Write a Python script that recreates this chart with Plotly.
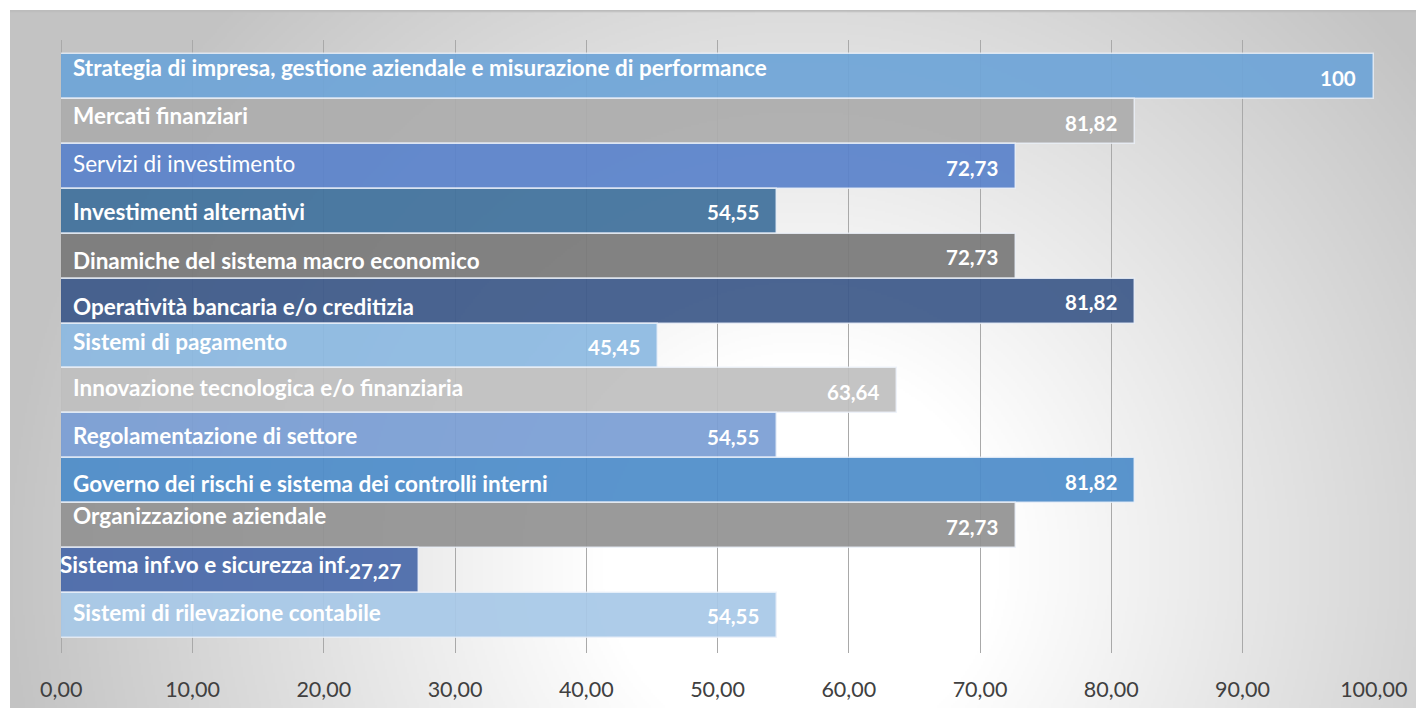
import base64, struct, zlib
import numpy as np
import plotly.graph_objects as go

# ---------------- data ----------------
categories = [
    "Strategia di impresa, gestione aziendale e misurazione di performance",
    "Mercati finanziari",
    "Servizi di investimento",
    "Investimenti alternativi",
    "Dinamiche del sistema macro economico",
    "Operatività bancaria e/o creditizia",
    "Sistemi di pagamento",
    "Innovazione tecnologica e/o finanziaria",
    "Regolamentazione di settore",
    "Governo dei rischi e sistema dei controlli interni",
    "Organizzazione aziendale",
    "Sistema inf.vo e sicurezza inf.",
    "Sistemi di rilevazione contabile",
]
values = [100, 81.82, 72.73, 54.55, 72.73, 81.82, 45.45, 63.64, 54.55, 81.82, 72.73, 27.27, 54.55]
tick_values = [0, 10, 20, 30, 40, 50, 60, 70, 80, 90, 100]

# ---------------- styles ----------------
bar_colors = ["#6fa5d8", "#adadad", "#5b83cb", "#41729d", "#7a7a7a", "#3e5a8a",
              "#8dbae2", "#c0c0c0", "#7b9fd5", "#4e8dca", "#939393", "#4a6aaa", "#a8c9e8"]
label_bold = [True, True, False, True, True, True, True, True, True, True, True, True, True]
label_dy = [-9, -6, -3, 0, 4, 5, -5, -3, 0, 3, -10, -6, -3]   # px, positive = down
label_dx = [10, 10, 10, 10, 10, 10, 10, 10, 10, 10, 10, -3, 10]

OFF = 8  # page body margin
W, H = 1424 - OFF, 708 - OFF
ML, MR, MT, MB = 61 - OFF, 50, 40 - OFF, 55
PW, PH = W - ML - MR, H - MT - MB

def fmt(v):
    if float(v).is_integer():
        return str(int(v))
    return f"{v:.2f}".replace(".", ",")

# ---------------- background gradient image ----------------
def gray_png(arr):
    h, w = arr.shape
    raw = b"".join(b"\x00" + arr[r].tobytes() for r in range(h))
    def chunk(t, d):
        c = struct.pack(">I", len(d)) + t + d
        return c + struct.pack(">I", zlib.crc32(t + d) & 0xffffffff)
    png = b"\x89PNG\r\n\x1a\n"
    png += chunk(b"IHDR", struct.pack(">IIBBBBB", w, h, 8, 0, 0, 0, 0))
    png += chunk(b"IDAT", zlib.compress(raw, 9))
    png += chunk(b"IEND", b"")
    return "data:image/png;base64," + base64.b64encode(png).decode()

bx0, by0 = 10 - OFF, 10 - OFF      # figure px of gradient box top-left
bw, bh = W - bx0, H - by0
sc = 2
gw, gh = bw // sc, bh // sc
xs = (np.arange(gw) * sc + bx0 + OFF)[None, :]
ys = (np.arange(gh) * sc + by0 + OFF)[:, None]
cx, cy = 800, 560
d = np.sqrt((xs - cx) ** 2 + (ys - cy) ** 2)
t = np.clip((d - 200) / (800 - 200), 0, 1)
g = 255 - 60 * t
img = g.astype(np.uint8)
img[0, :] = 188
src = gray_png(img)

fig = go.Figure()
fig.add_trace(go.Bar(
    x=values, y=categories, orientation="h",
    width=1,
    marker=dict(color=bar_colors, opacity=0.93,
                line=dict(color="rgba(236,242,250,0.85)", width=1.5)),
    hoverinfo="skip",
))

annotations = []
for i, (c, v) in enumerate(zip(categories, values)):
    annotations.append(dict(
        x=0, y=c, xref="x", yref="y", text=(f"<b>{c}</b>" if label_bold[i] else c),
        showarrow=False, xanchor="left", yanchor="middle",
        xshift=label_dx[i], yshift=-label_dy[i],
        font=dict(family="Lato", size=22.5, color="white"),
    ))
    annotations.append(dict(
        x=v, y=c, xref="x", yref="y", text=f"<b>{fmt(v)}</b>",
        showarrow=False, xanchor="right", yanchor="middle",
        xshift=-16, yshift=-1,
        font=dict(family="Lato", size=20.5, color="white"),
    ))

n = len(categories)
fig.update_layout(
    width=W, height=H,
    margin=dict(l=ML, r=MR, t=MT, b=MB),
    paper_bgcolor="white", plot_bgcolor="rgba(0,0,0,0)",
    showlegend=False,
    separators=",.",
    bargap=0,
    annotations=annotations,
    images=[dict(
        source=src, xref="paper", yref="paper",
        x=(bx0 - ML) / PW, y=1 + (MT - by0) / PH,
        sizex=bw / PW, sizey=bh / PH,
        xanchor="left", yanchor="top", sizing="stretch", layer="below",
    )],
    xaxis=dict(
        range=[-0.02, 100.02], tickvals=tick_values, tickformat=".2f",
        showgrid=True, gridcolor="#a9a9a9", gridwidth=1.3,
        zeroline=True, zerolinecolor="#a9a9a9", zerolinewidth=1.3,
        showline=False, ticks="", automargin=False,
        tickfont=dict(family="Lato", size=21.5, color="#404040"),
        ticklabelstandoff=21,
    ),
    yaxis=dict(
        categoryorder="array", categoryarray=categories,
        range=[n - 1 + 0.84, -0.82], automargin=False,
        showticklabels=False, showgrid=False, zeroline=False, ticks="",
    ),
)

fig.write_html("out.html")
